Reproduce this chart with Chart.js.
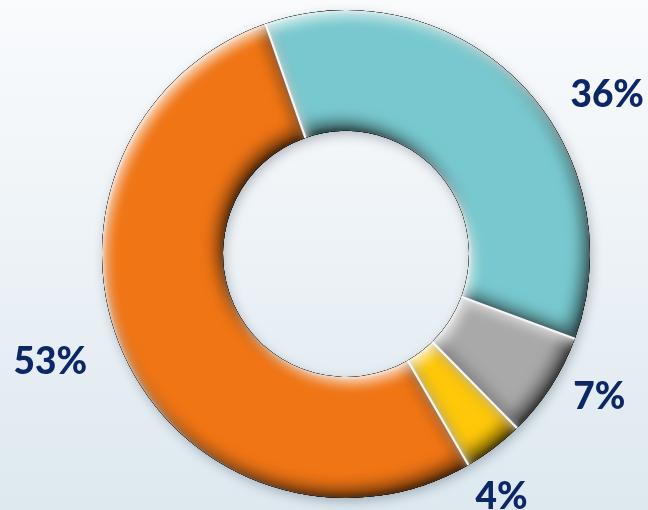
<!DOCTYPE html>
<html>
<head>
<meta charset="utf-8">
<script src="https://cdn.jsdelivr.net/npm/chart.js@4/dist/chart.umd.min.js"></script>
<style>
  html, body { margin: 0; padding: 0; }
  body {
    width: 648px; height: 510px; overflow: hidden;
    background: linear-gradient(to bottom, #f9fbfd 0%, #eef3f7 45%, #dde8ef 100%);
  }
  #wrap { position: relative; width: 648px; height: 510px; }
</style>
</head>
<body>
<div id="wrap"><canvas id="c"></canvas></div>
<script>
// Shares of the four segments, clockwise from the start angle
const categories = ['Category 1', 'Category 2', 'Category 3', 'Category 4'];
const shares = [36, 7, 4, 53];
const sliceColors = ['#78C9CF', '#A9A9A9', '#FFC90A', '#F07515'];
const labelTexts = shares.map(v => v + '%');

// Label placement relative to each slice: angular nudge (degrees) from the
// slice's middle and the distance of the text centre beyond the outer rim.
const labelNudge = [12.8, -3.8, 4.5, 5.0];
const labelGap = [63, 46, 43, 70];

const LABEL_FONT = '900 37px Lato';
const LABEL_COLOR = '#0B2766';

function slicePath(ctx, x, y, r0, r1, a0, a1) {
  ctx.moveTo(x + Math.cos(a0) * r1, y + Math.sin(a0) * r1);
  ctx.arc(x, y, r1, a0, a1);
  ctx.arc(x, y, r0, a1, a0, true);
  ctx.closePath();
}

// Soft drop shadow under the ring, bevel shading on each slice, and labels
const bevelPlugin = {
  id: 'bevel',
  beforeDatasetsDraw(chart) {
    const arcs = chart.getDatasetMeta(0).data;
    if (!arcs.length) return;
    const { x, y, innerRadius, outerRadius } = arcs[0].getProps(['x', 'y', 'innerRadius', 'outerRadius'], true);
    const ctx = chart.ctx;
    ctx.save();
    ctx.shadowColor = 'rgba(40, 55, 70, 0.35)';
    ctx.shadowBlur = 12;
    ctx.shadowOffsetX = 2;
    ctx.shadowOffsetY = 4;
    ctx.fillStyle = '#999';
    ctx.beginPath();
    ctx.arc(x, y, outerRadius - 1, 0, Math.PI * 2);
    ctx.arc(x, y, innerRadius + 1, Math.PI * 2, 0, true);
    ctx.fill();
    ctx.restore();
  },
  afterDatasetsDraw(chart) {
    const ctx = chart.ctx;
    const arcs = chart.getDatasetMeta(0).data;
    arcs.forEach(arc => {
      const p = arc.getProps(['x', 'y', 'startAngle', 'endAngle', 'innerRadius', 'outerRadius'], true);
      const innerShade = (color, blur, dx, dy) => {
        ctx.save();
        ctx.beginPath();
        slicePath(ctx, p.x, p.y, p.innerRadius, p.outerRadius, p.startAngle, p.endAngle);
        ctx.clip();
        ctx.beginPath();
        ctx.rect(-2000, -2000, 5000, 5000);
        slicePath(ctx, p.x, p.y, p.innerRadius, p.outerRadius, p.startAngle, p.endAngle);
        ctx.shadowColor = color;
        ctx.shadowBlur = blur;
        ctx.shadowOffsetX = dx;
        ctx.shadowOffsetY = dy;
        ctx.fillStyle = '#000';
        ctx.fill('evenodd');
        ctx.restore();
      };
      innerShade('rgba(0, 0, 0, 0.6)', 16, -6, -8);
      innerShade('rgba(0, 0, 0, 0.35)', 4, -2, -3);
      innerShade('rgba(255, 255, 255, 0.7)', 12, 5, 7);
      innerShade('rgba(255, 255, 255, 0.45)', 3, 2, 2);
    });

    // thin light seams between neighbouring slices
    ctx.save();
    ctx.strokeStyle = 'rgba(255, 255, 255, 0.95)';
    ctx.lineWidth = 2;
    arcs.forEach(arc => {
      const p = arc.getProps(['x', 'y', 'startAngle', 'innerRadius', 'outerRadius'], true);
      const c = Math.cos(p.startAngle), s = Math.sin(p.startAngle);
      ctx.beginPath();
      ctx.moveTo(p.x + c * p.innerRadius, p.y + s * p.innerRadius);
      ctx.lineTo(p.x + c * p.outerRadius, p.y + s * p.outerRadius);
      ctx.stroke();
    });
    ctx.restore();
  },
  afterDraw(chart) {
    const ctx = chart.ctx;
    const arcs = chart.getDatasetMeta(0).data;
    ctx.save();
    ctx.font = LABEL_FONT;
    ctx.fillStyle = LABEL_COLOR;
    ctx.textAlign = 'center';
    ctx.textBaseline = 'alphabetic';
    const capHalf = ctx.measureText('0').actualBoundingBoxAscent / 2;
    arcs.forEach((arc, i) => {
      const p = arc.getProps(['x', 'y', 'startAngle', 'endAngle', 'outerRadius'], true);
      const a = (p.startAngle + p.endAngle) / 2 + labelNudge[i] * Math.PI / 180;
      const r = p.outerRadius + labelGap[i];
      ctx.fillText(labelTexts[i], p.x + Math.cos(a) * r, p.y + Math.sin(a) * r + capHalf);
    });
    ctx.restore();
  }
};

new Chart(document.getElementById('c'), {
  type: 'doughnut',
  data: {
    labels: categories,
    datasets: [{
      data: shares,
      backgroundColor: sliceColors,
      borderWidth: 0
    }]
  },
  options: {
    responsive: true,
    maintainAspectRatio: false,
    animation: false,
    rotation: -19.3,
    cutout: '50.4%',
    layout: { padding: { left: 102, right: 58, top: 10, bottom: 12 } },
    plugins: {
      legend: { display: false },
      tooltip: { enabled: false }
    }
  },
  plugins: [bevelPlugin]
});
</script>
</body>
</html>
